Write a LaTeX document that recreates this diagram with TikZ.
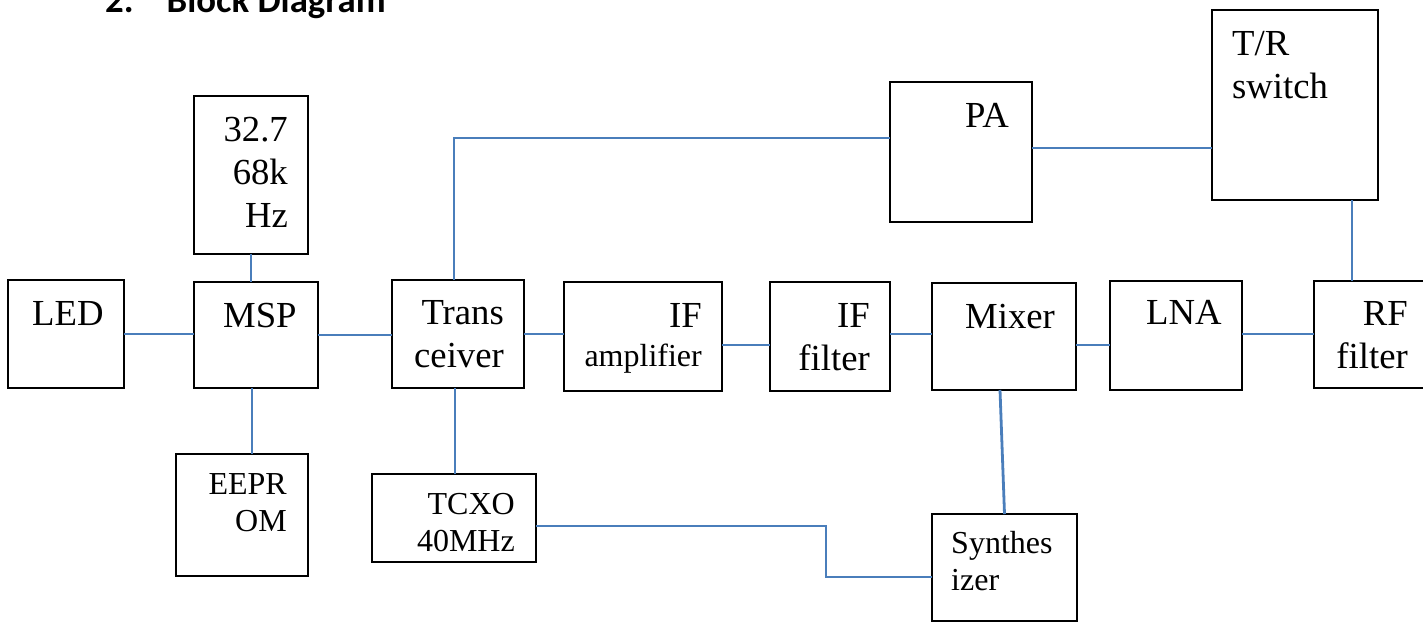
\documentclass[tikz,border=0pt]{standalone}
\usepackage{fontspec}
\setmainfont{Liberation Serif}
\newfontfamily\hdfont{Carlito}
\usetikzlibrary{positioning}
\definecolor{wireblue}{HTML}{4A7EBB}

\begin{document}
\begin{tikzpicture}[x=1pt, y=-1pt,
            blk/.style={draw, line width=1.6pt, inner sep=0pt, outer sep=0pt},
            wire/.style={draw=wireblue, line width=2.8pt},
            big/.style={inner sep=0pt, font=\fontsize{36.7}{43}\selectfont},
            small/.style={inner sep=0pt, font=\fontsize{32}{37}\selectfont}]
        \useasboundingbox (0,0) rectangle (1423,624);
        \clip (0,0) rectangle (1423,624);
        % heading
        \node[anchor=base west, inner sep=0pt, font=\hdfont\bfseries\fontsize{36.8}{40}\selectfont] (ttl) at (105,12) {2.\hspace{33pt}Block Diagram};
        % blocks
        \node[blk, minimum width=116, minimum height=108] (led) at (66,334) {};
        \node[blk, minimum width=114, minimum height=158] (xtal) at (251,175) {};
        \node[blk, minimum width=124, minimum height=106] (msp) at (256,335) {};
        \node[blk, minimum width=132, minimum height=122] (eeprom) at (242,515) {};
        \node[blk, minimum width=132, minimum height=108] (trx) at (458,334) {};
        \node[blk, minimum width=164, minimum height=88] (tcxo) at (454,518) {};
        \node[blk, minimum width=158, minimum height=109] (ifamp) at (643,336.5) {};
        \node[blk, minimum width=120, minimum height=109] (iffilt) at (830,336.5) {};
        \node[blk, minimum width=144, minimum height=107] (mixer) at (1004,336.5) {};
        \node[blk, minimum width=132, minimum height=109] (lna) at (1176,335.5) {};
        \node[blk, minimum width=126, minimum height=107] (rffilt) at (1377,334.5) {};
        \node[blk, minimum width=142, minimum height=140] (pa) at (961,152) {};
        \node[blk, minimum width=166, minimum height=190] (trsw) at (1295,105) {};
        \node[blk, minimum width=145, minimum height=107] (synth) at (1004.5,567.5) {};
        % labels (multi-line ones sit on the last baseline)
        \node[big, anchor=base west] (led-t) at (32,325) {LED};
        \node[big, anchor=base east, align=right] (xtal-t) at (288,227) {32.7\\68k\\Hz};
        \node[big, anchor=base west] (msp-t) at (223,327) {MSP};
        \node[small, anchor=base east, align=right] (eeprom-t) at (287,531) {EEPR\\OM};
        \node[big, anchor=base east, align=right] (trx-t) at (504,367) {Trans\\ceiver};
        \node[small, anchor=base east, align=right] (tcxo-t) at (515,551) {TCXO\\40MHz};
        \node[big, anchor=base east, align=right] (ifamp-t) at (702,366) {IF\\[-4pt]{\fontsize{32}{37}\selectfont amplifier}};
        \node[big, anchor=base east, align=right] (iffilt-t) at (870,370) {IF\\filter};
        \node[big, anchor=base west] (mixer-t) at (965,328) {Mixer};
        \node[big, anchor=base west] (lna-t) at (1146,324) {LNA};
        \node[big, anchor=base east, align=right] (rffilt-t) at (1408,368) {RF\\filter};
        \node[big, anchor=base west] (pa-t) at (965,127) {PA};
        \node[big, anchor=base west, align=left] (trsw-t) at (1232,98) {T/R\\switch};
        \node[small, anchor=base west, align=left] (synth-t) at (951,590) {Synthes\\izer};
        % connectors
        \draw[wire] (led.east) -- (led.east -| msp.west);
        \draw[wire] (xtal.south) -- (xtal.south |- msp.north);
        \draw[wire] ([xshift=-4]msp.south) -- ([xshift=-4]msp.south |- eeprom.north);
        \draw[wire] (msp.east) -- (msp.east -| trx.west);
        \draw[wire] ([xshift=-4]trx.north) |- ([yshift=14]pa.west);
        \draw[wire] ([xshift=-3]trx.south) -- ([xshift=-3]trx.south |- tcxo.north);
        \draw[wire] (trx.east) -- (trx.east -| ifamp.west);
        \draw[wire] ([yshift=-8.5]ifamp.east) -- ([yshift=-8.5]ifamp.east -| iffilt.west);
        \draw[wire] ([yshift=2.5]iffilt.east) -- ([yshift=2.5]iffilt.east -| mixer.west);
        \draw[wire] ([yshift=-8.5]mixer.east) -- ([yshift=-8.5]mixer.east -| lna.west);
        \draw[wire] ([yshift=1.5]lna.east) -- ([yshift=1.5]lna.east -| rffilt.west);
        \draw[wire] ([yshift=4]pa.east) -- ([yshift=4]pa.east -| trsw.west);
        \draw[wire] ([xshift=57]trsw.south) -- ([xshift=57]trsw.south |- rffilt.north);
        \draw[wire] ([xshift=-4]mixer.south) -- (synth.north);
        \draw[wire] ([yshift=-8]tcxo.east) -- ++(290,0) |- ([yshift=-9.5]synth.west);
\end{tikzpicture}
\end{document}
